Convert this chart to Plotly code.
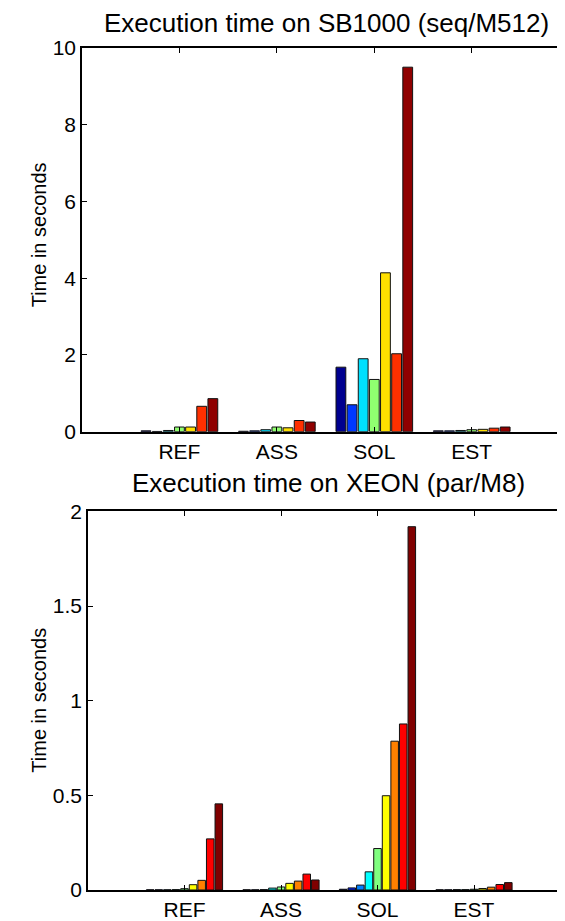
import plotly.graph_objects as go

categories = ["REF", "ASS", "SOL", "EST"]

# Top panel: SB1000 (seq/M512), 7 series
top_colors = ["#00008f", "#0038ff", "#00e0ff", "#90ff70", "#ffe000", "#ff3000", "#8f0000"]
top_values = [
    [0.02, 0.01, 1.68, 0.02],
    [0.005, 0.02, 0.70, 0.02],
    [0.03, 0.05, 1.90, 0.03],
    [0.12, 0.12, 1.36, 0.05],
    [0.12, 0.10, 4.14, 0.06],
    [0.66, 0.29, 2.03, 0.09],
    [0.86, 0.25, 9.50, 0.12],
]

# Bottom panel: XEON (par/M8), 9 series
bot_colors = ["#00008f", "#0020ff", "#0080ff", "#00ffff", "#80ff80",
              "#ffff00", "#ff8000", "#ff0000", "#800000"]
bot_values = [
    [0.001, 0.001, 0.004, 0.001],
    [0.001, 0.001, 0.011, 0.001],
    [0.001, 0.002, 0.026, 0.002],
    [0.002, 0.010, 0.096, 0.002],
    [0.007, 0.016, 0.219, 0.004],
    [0.028, 0.035, 0.498, 0.008],
    [0.051, 0.047, 0.786, 0.015],
    [0.270, 0.084, 0.877, 0.029],
    [0.455, 0.053, 1.919, 0.039],
]

top_title = "Execution time on SB1000 (seq/M512)"
bot_title = "Execution time on XEON (par/M8)"
y_title = "Time in seconds"

xpos = [1, 2, 3, 4]
FONT = "Liberation Sans, Arial, Helvetica, sans-serif"
FS = 21
FS_YT = 20
FS_TITLE = 26

fig = go.Figure()
for vals, col in zip(top_values, top_colors):
    fig.add_trace(go.Bar(x=xpos, y=vals, marker=dict(color=col, line=dict(color="#111111", width=1)),
                         xaxis="x", yaxis="y", showlegend=False))
for vals, col in zip(bot_values, bot_colors):
    fig.add_trace(go.Bar(x=xpos, y=vals, marker=dict(color=col, line=dict(color="#111111", width=1)),
                         xaxis="x2", yaxis="y2", showlegend=False))

# the page body has an 8px margin: design in viewport pixels, then subtract OFF
OFF = 8
W, H = 565 - OFF, 921 - OFF
ml, mt, mb = 82 - OFF, 48 - OFF, H - (893 - OFF)
pw = W - ml
ph = H - mt - mb

def px_to_paper_x(px):
    return (px - OFF - ml) / pw

def py_to_paper_y(py):
    return (H - mb - (py - OFF)) / ph

axis_common = dict(showline=True, linecolor="#000000", linewidth=1.5, ticks="inside",
                   ticklen=5, tickcolor="#000000", showgrid=False, zeroline=False,
                   tickfont=dict(family=FONT, size=FS, color="#000000"))

fig.update_layout(
    width=W, height=H,
    margin=dict(l=ml, r=0, t=mt, b=mb),
    paper_bgcolor="white", plot_bgcolor="white",
    barmode="group", bargap=0.2, bargroupgap=0.12,
    font=dict(family=FONT, size=FS, color="#000000"),
    xaxis=dict(domain=[0, 1], anchor="y", range=[0, 4.957], tickvals=xpos, ticktext=categories,
               mirror="ticks", **axis_common),
    yaxis=dict(domain=[py_to_paper_y(433), 1], anchor="x", range=[0, 10],
               tickvals=[0, 2, 4, 6, 8, 10], **axis_common),
    xaxis2=dict(domain=[px_to_paper_x(88), 1], anchor="y2", range=[0, 4.943], tickvals=xpos,
                ticktext=categories, mirror="ticks", **axis_common),
    yaxis2=dict(domain=[0, py_to_paper_y(513)], anchor="x2", range=[0, 2],
                tickvals=[0, 0.5, 1, 1.5, 2], ticktext=["0", "0.5", "1", "1.5", "2"], **axis_common),
    annotations=[
        dict(text=top_title, xref="paper", yref="paper", x=px_to_paper_x(326), y=py_to_paper_y(23),
             showarrow=False, xanchor="center", yanchor="middle", font=dict(family=FONT, size=FS_TITLE)),
        dict(text=bot_title, xref="paper", yref="paper", x=px_to_paper_x(328), y=py_to_paper_y(485),
             showarrow=False, xanchor="center", yanchor="middle", font=dict(family=FONT, size=FS_TITLE)),
        dict(text=y_title, xref="paper", yref="paper", x=px_to_paper_x(39), y=py_to_paper_y(236),
             showarrow=False, textangle=-90, xanchor="center", yanchor="middle", font=dict(family=FONT, size=FS_YT)),
        dict(text=y_title, xref="paper", yref="paper", x=px_to_paper_x(39), y=py_to_paper_y(703),
             showarrow=False, textangle=-90, xanchor="center", yanchor="middle", font=dict(family=FONT, size=FS_YT)),
    ],
)

fig.write_html("out.html")
